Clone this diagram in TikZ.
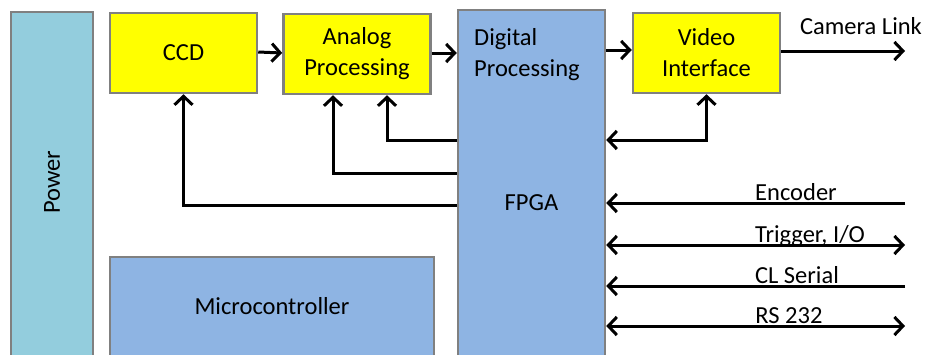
\documentclass[tikz,border=0pt]{standalone}
\usepackage{fontspec}
\setmainfont{Carlito}
\usetikzlibrary{arrows.meta}
\definecolor{boxline}{HTML}{808080}
\definecolor{pwrfill}{HTML}{93CDDD}
\definecolor{bluefill}{HTML}{8EB4E3}
\definecolor{yelfill}{HTML}{FFFF00}
\newcommand{\lblfont}{\fontsize{24.5}{31}\selectfont}
\begin{document}
\begin{tikzpicture}[x=1pt,y=-1pt,
  blk/.style={draw=boxline,line width=2.5pt,rectangle,inner sep=0pt,align=center,font=\lblfont},
  ybox/.style={blk,fill=yelfill,minimum width=147pt,minimum height=80pt},
  arr/.style={line width=3pt,-{Straight Barb[length=8.5pt,width=18pt,line width=3pt]}},
  barr/.style={line width=3pt,{Straight Barb[length=8.5pt,width=18pt,line width=3pt]}-{Straight Barb[length=8.5pt,width=18pt,line width=3pt]}},
  lbl/.style={font=\lblfont,anchor=base,inner sep=0pt}]
\useasboundingbox (0,0) rectangle (927,354);
% blocks
\node[blk,fill=pwrfill,minimum width=82pt,minimum height=346pt] (power) at (52,185) {};
\node[font=\lblfont,rotate=90] at (power.center |- 0,182) {Power};
\node[ybox] (ccd) at (183.5,53) {CCD};
\node[ybox] (analog) at (357,54) {Analog\\Processing};
\node[blk,fill=bluefill,minimum width=147pt,minimum height=346pt] (fpga) at (531.5,183) {};
\node[font=\lblfont,align=left,anchor=north west,inner sep=0pt] (dp) at (474,28) {Digital\\Processing};
\node[font=\lblfont] (fpgalbl) at (531.5,203) {FPGA};
\node[ybox] (video) at (706.5,53) {Video\\Interface};
\node[blk,fill=bluefill,minimum width=324pt,minimum height=99pt] (mcu) at (272,306.5) {Microcontroller};
% data path
\draw[arr] ([yshift=1pt]ccd.east) -- ([yshift=1pt]analog.west);
\draw[arr] ([yshift=1pt]analog.east) -- ([yshift=1pt]fpga.west |- analog.east);
\draw[arr] ([yshift=3pt]fpga.east |- video.west) -- ([yshift=3pt]video.west);
\coordinate (camend) at (905,51);
\draw[arr] (video.east |- camend) -- (camend);
\node[lbl] at (861,34) {Camera Link};
% control paths from the FPGA
\draw[arr] ([yshift=-22pt]fpga.west) -| (ccd.south);
\draw[arr] ([yshift=10pt]fpga.west) -| ([xshift=-24pt]analog.south);
\draw[arr] ([yshift=43pt]fpga.west) -| ([xshift=30pt]analog.south);
\draw[barr] ([yshift=43pt]fpga.east) -| (video.south);
% external interfaces
\coordinate (enc) at (905,203);
\coordinate (trg) at (905,245);
\coordinate (cls) at (905,286);
\coordinate (rs) at (905,326);
\draw[arr] (enc) -- (fpga.east |- enc);
\draw[barr] (fpga.east |- trg) -- (trg);
\draw[arr] (cls) -- (fpga.east |- cls);
\draw[barr] (fpga.east |- rs) -- (rs);
\node[lbl] at (796,200) {Encoder};
\node[lbl] at (810,242) {Trigger, I/O};
\node[lbl] at (797,283) {CL Serial};
\node[lbl] at (789,323) {RS 232};
\end{tikzpicture}
\end{document}
